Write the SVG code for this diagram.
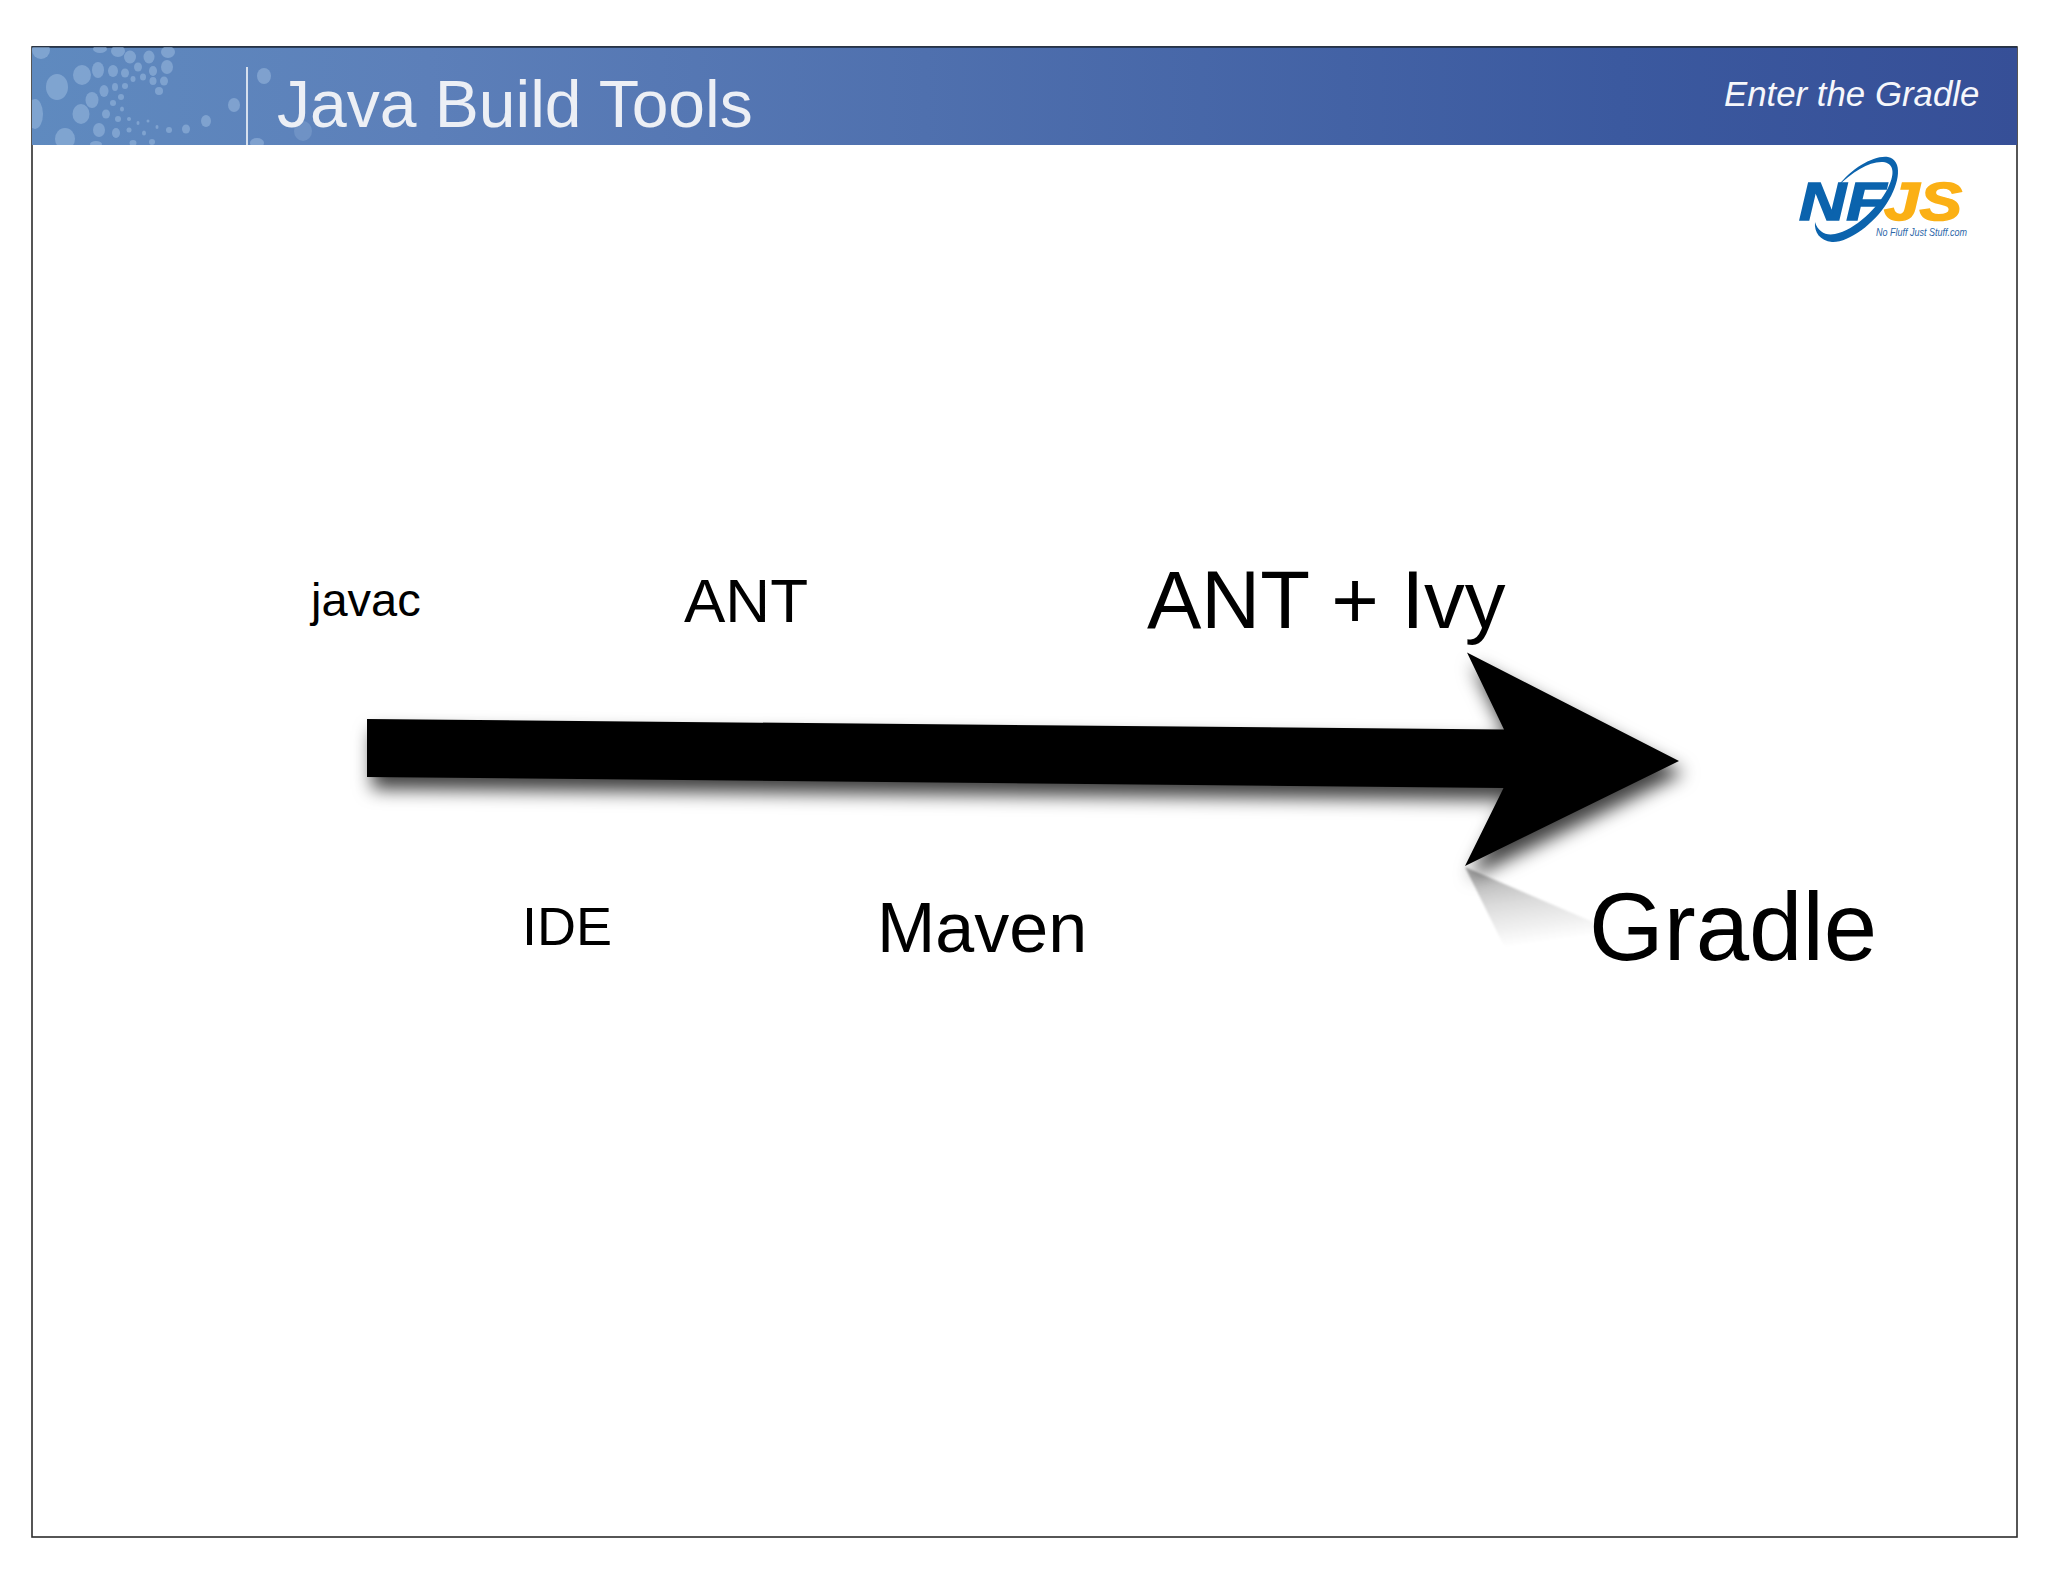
<svg xmlns="http://www.w3.org/2000/svg" width="2048" height="1582" viewBox="0 0 2048 1582">
<style>
text{font-family:"Liberation Sans",Arial,sans-serif}
.lbl{fill:#000}
.b{fill:#9dbbe0;opacity:.52}
</style>
<defs>
<linearGradient id="hdr" x1="0" y1="0" x2="1" y2="0">
<stop offset="0" stop-color="#5f8abf"/><stop offset=".2" stop-color="#5c7fb9"/><stop offset=".45" stop-color="#4f70ae"/><stop offset=".8" stop-color="#3b599f"/><stop offset="1" stop-color="#364f97"/>
</linearGradient>
<linearGradient id="refl" x1="0" y1="0" x2=".25" y2="1">
<stop offset="0" stop-color="#a8a8a8"/><stop offset=".5" stop-color="#dcdcdc"/><stop offset="1" stop-color="#fff"/>
</linearGradient>
<filter id="sh" x="-5%" y="-20%" width="110%" height="140%">
<feDropShadow dx="5" dy="12" stdDeviation="9" flood-color="#000" flood-opacity=".75"/>
</filter>
<filter id="soft" x="-10%" y="-10%" width="120%" height="120%"><feGaussianBlur stdDeviation="1.2"/></filter>
<filter id="bb" x="-2%" y="-10%" width="104%" height="120%"><feGaussianBlur stdDeviation=".6"/></filter>
<clipPath id="hc"><rect x="32" y="47" width="1985" height="98"/></clipPath>
</defs>
<rect width="2048" height="1582" fill="#fff"/>
<g id="frame">
<rect x="32" y="47" width="1985" height="1490" fill="#fff" stroke="#2c2c2c" stroke-width="1.6"/>
</g>
<g id="header">
<rect x="32" y="47" width="1985" height="98" fill="url(#hdr)"/>
<line x1="32" y1="47" x2="2017" y2="47" stroke="#1d2a3e" stroke-width="1.6"/>
<g clip-path="url(#hc)"><g filter="url(#bb)">
<ellipse class="b" cx="41" cy="50" rx="9" ry="9"/><ellipse class="b" cx="35" cy="114" rx="8" ry="15"/><ellipse class="b" cx="57" cy="87" rx="11" ry="13"/><ellipse class="b" cx="82" cy="75" rx="9" ry="10"/><ellipse class="b" cx="98" cy="70" rx="6" ry="8"/><ellipse class="b" cx="113" cy="71" rx="5" ry="6"/><ellipse class="b" cx="125" cy="73" rx="4" ry="4.5"/><ellipse class="b" cx="138" cy="67" rx="4" ry="4.5"/><ellipse class="b" cx="153" cy="71" rx="4" ry="5"/><ellipse class="b" cx="167" cy="67" rx="6" ry="7"/><ellipse class="b" cx="149" cy="57" rx="5.500" ry="6.500"/><ellipse class="b" cx="130" cy="57" rx="6" ry="6.500"/><ellipse class="b" cx="118" cy="51" rx="7" ry="6"/><ellipse class="b" cx="100" cy="49" rx="7" ry="4"/><ellipse class="b" cx="168" cy="52" rx="7" ry="6"/><ellipse class="b" cx="143" cy="77" rx="3" ry="3.500"/><ellipse class="b" cx="133" cy="79" rx="2.500" ry="3"/><ellipse class="b" cx="153" cy="81" rx="3.500" ry="4"/><ellipse class="b" cx="164" cy="81" rx="4" ry="4.500"/><ellipse class="b" cx="159" cy="91" rx="4" ry="4"/><ellipse class="b" cx="125" cy="86" rx="3" ry="3"/><ellipse class="b" cx="115" cy="87" rx="3" ry="4"/><ellipse class="b" cx="104" cy="91" rx="4.500" ry="6"/><ellipse class="b" cx="92" cy="100" rx="6.500" ry="8"/><ellipse class="b" cx="121" cy="97" rx="3" ry="3"/><ellipse class="b" cx="113" cy="103" rx="3" ry="3"/><ellipse class="b" cx="122" cy="109" rx="2" ry="2.500"/><ellipse class="b" cx="81" cy="114" rx="8.500" ry="10"/><ellipse class="b" cx="106" cy="114" rx="4" ry="4.500"/><ellipse class="b" cx="118" cy="119" rx="3" ry="3"/><ellipse class="b" cx="129" cy="119" rx="2" ry="2"/><ellipse class="b" cx="138" cy="123" rx="1.500" ry="2"/><ellipse class="b" cx="148" cy="121" rx="1.500" ry="1.500"/><ellipse class="b" cx="157" cy="127" rx="1.500" ry="2"/><ellipse class="b" cx="169" cy="130" rx="3" ry="3"/><ellipse class="b" cx="186" cy="129" rx="4" ry="4.500"/><ellipse class="b" cx="206" cy="121" rx="5" ry="6"/><ellipse class="b" cx="234" cy="105" rx="6" ry="7"/><ellipse class="b" cx="264" cy="76" rx="7" ry="8"/><ellipse class="b" cx="144" cy="133" rx="2" ry="2.500"/><ellipse class="b" cx="129" cy="130" rx="2.500" ry="2.500"/><ellipse class="b" cx="116" cy="133" rx="4" ry="5"/><ellipse class="b" cx="99" cy="130" rx="6" ry="7"/><ellipse class="b" cx="65" cy="139" rx="10" ry="11"/><ellipse class="b" cx="96" cy="144" rx="6" ry="3"/><ellipse class="b" cx="133" cy="143" rx="3.500" ry="3"/><ellipse class="b" cx="152" cy="142" rx="3" ry="3"/><ellipse class="b" cx="257" cy="143" rx="7" ry="5"/><ellipse class="b" cx="303" cy="131" rx="9" ry="10" style="opacity:.28"/>
</g></g>
<line x1="247" y1="67" x2="247" y2="145" stroke="#f4f7fb" stroke-width="1.6"/>
</g>
<g id="title"><text x="277" y="127" font-size="66" fill="#eceff5">Java Build Tools</text></g>
<g id="subtitle"><text x="1724" y="106" font-size="34.800" font-style="italic" fill="#f6f7fb">Enter the Gradle</text></g>
<g id="logo">
<text x="1799" y="220" font-size="53" font-weight="bold" font-style="italic" fill="#0b63ad" stroke="#0b63ad" stroke-width="1.500" textLength="87" lengthAdjust="spacingAndGlyphs">NF</text>
<text x="1884" y="220" font-size="53" font-weight="bold" font-style="italic" fill="#fbb015" stroke="#fbb015" stroke-width="1.500" textLength="78" lengthAdjust="spacingAndGlyphs">JS</text>
<path fill="#0b63ad" d="M1838 186C1852 168 1874 155 1888 157C1903 160 1900 183 1887 203C1874 224 1848 243 1832 242C1820 241 1814 232 1815 222C1818 232 1826 236 1835 234C1855 230 1878 208 1888 188C1896 172 1893 163 1883 162C1870 161 1852 172 1838 186Z"/>
<text x="1876" y="236" font-size="11.500" font-style="italic" fill="#2b66a8" textLength="91" lengthAdjust="spacingAndGlyphs">No Fluff Just Stuff.com</text>
</g>
<g id="connectors">
<polygon points="1465,867 1600,925 1610,948 1505,948" fill="url(#refl)" filter="url(#soft)"/>
<polygon id="timeline-arrow" points="367,719 1504,729.500 1467,652.500 1679,761 1465,866 1503.500,788 367,777" fill="#000" filter="url(#sh)"/>
</g>
<g id="node-javac"><text class="lbl" x="311" y="616" font-size="47">javac</text></g>
<g id="node-ant"><text class="lbl" x="684" y="622" font-size="62">ANT</text></g>
<g id="node-ant-ivy"><text class="lbl" x="1147" y="628" font-size="81.500">ANT + Ivy</text></g>
<g id="node-ide"><text class="lbl" x="522" y="945" font-size="54">IDE</text></g>
<g id="node-maven"><text class="lbl" x="877" y="952" font-size="70">Maven</text></g>
<g id="node-gradle"><text class="lbl" x="1589" y="960" font-size="96">Gradle</text></g>
</svg>
